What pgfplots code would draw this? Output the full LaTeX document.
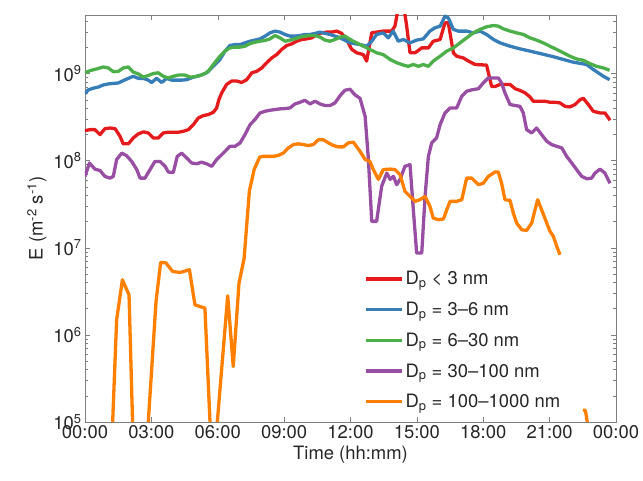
\documentclass[border=0pt]{standalone}
\usepackage{fontspec}
\setmainfont{TeX Gyre Heros}
\usepackage{pgfplots}
\pgfplotsset{compat=1.18}
\definecolor{cred}{RGB}{228,26,28}
\definecolor{cblue}{RGB}{55,126,184}
\definecolor{cgreen}{RGB}{77,175,74}
\definecolor{cpurple}{RGB}{152,78,163}
\definecolor{corange}{RGB}{255,127,0}
\definecolor{axgray}{RGB}{128,128,128}
\definecolor{txt}{RGB}{38,38,38}
\newcommand{\fs}{\fontsize{18.5}{22}\selectfont}
\begin{document}
\begin{tikzpicture}
\begin{axis}[
  scale only axis, width=531bp, height=407bp,
  xmin=0, xmax=24, ymode=log, log basis y=10, ymin=1e5, ymax=4.7e9,
  xtick={0,3,...,24},
  xticklabels={00:00,03:00,06:00,09:00,12:00,15:00,18:00,21:00,00:00},
  ytick={1e5,1e6,1e7,1e8,1e9},
  minor ytick={2e5,3e5,4e5,5e5,6e5,7e5,8e5,9e5,2e6,3e6,4e6,5e6,6e6,7e6,8e6,9e6,
    2e7,3e7,4e7,5e7,6e7,7e7,8e7,9e7,2e8,3e8,4e8,5e8,6e8,7e8,8e8,9e8,2e9,3e9,4e9},
  yticklabel={10\textsuperscript{\pgfmathparse{int(round(\tick))}\pgfmathresult}},
  tick align=inside, major tick length=5bp, minor tick length=3bp,
  axis line style={axgray}, every tick/.style={axgray},
  tick label style={font=\fs, text=txt},
  label style={font=\fs, text=txt},
  xlabel={Time (hh:mm)},
  ylabel={E (m\textsuperscript{-2} s\textsuperscript{-1})},
  unbounded coords=jump,
  every axis plot/.append style={line width=3.3bp, line join=round},
  legend style={draw=none, fill=none, at={(0.52,0.38)}, anchor=north west,
    font=\fs, text=txt, row sep=11.8bp, cells={anchor=west}},
  legend image code/.code={\draw[#1] (0bp,0bp) -- (36bp,0bp);},
]
% D_p < 3 nm
\addplot[cred] coordinates {
(0,2.21e8)(0.23,2.27e8)(0.45,2.27e8)(0.68,1.99e8)(0.90,2.33e8)(1.13,2.37e8)(1.36,2.33e8)(1.58,1.91e8)(1.73,1.56e8)(1.96,1.56e8)
(2.18,1.82e8)(2.41,2.03e8)(2.64,2.14e8)(2.86,2.08e8)(3.09,1.82e8)(3.31,1.82e8)(3.54,2.08e8)(3.77,2.12e8)(3.99,2.12e8)(4.22,2.12e8)
(4.44,2.17e8)(4.67,2.27e8)(4.90,2.59e8)(5.12,3.09e8)(5.35,3.29e8)(5.57,3.38e8)(5.80,3.59e8)(5.95,4.03e8)(6.05,5.0e8)(6.18,6.0e8)
(6.40,7.5e8)(6.63,8.2e8)(6.86,8.2e8)(7.08,7.9e8)(7.31,8.5e8)(7.54,1.02e9)(7.76,1.06e9)(7.99,1.16e9)(8.21,1.33e9)(8.44,1.51e9)
(8.66,1.65e9)(8.89,1.89e9)(9.12,2.10e9)(9.34,2.19e9)(9.57,2.35e9)(9.79,2.46e9)(10.02,2.50e9)(10.25,2.57e9)(10.47,2.81e9)(10.70,2.93e9)
(10.93,2.99e9)(11.15,2.99e9)(11.38,3.07e9)(11.60,2.89e9)(11.83,2.45e9)(12.05,1.9e9)(12.28,1.73e9)(12.58,1.65e9)(12.73,1.39e9)(12.96,2.93e9)
(13.48,3.07e9)(13.86,3.07e9)(14.01,3.5e9)(14.30,9.0e9)(14.54,3.5e9)(14.69,1.73e9)(14.92,1.73e9)(15.22,1.97e9)(15.52,1.97e9)(15.74,2.35e9)
(16.05,2.46e9)(16.27,3.82e9)(16.42,3.82e9)(16.65,1.73e9)(16.80,1.58e9)(17.10,1.51e9)(17.33,1.39e9)(17.63,1.27e9)(18.15,1.25e9)(18.38,7.1e8)
(18.53,7.1e8)(18.76,7.5e8)(18.98,7.5e8)(19.21,7.5e8)(19.44,6.7e8)(19.66,6.4e8)(19.89,6.0e8)(20.11,5.4e8)(20.26,4.81e8)(20.57,4.81e8)
(20.79,4.81e8)(21.02,4.68e8)(21.24,4.68e8)(21.47,4.60e8)(21.69,4.21e8)(21.92,4.14e8)(22.15,4.41e8)(22.37,5.0e8)(22.52,5.2e8)(22.75,4.41e8)
(22.97,3.69e8)(23.28,3.53e8)(23.50,3.53e8)(23.73,2.91e8)
};
\addlegendentry{D\textsubscript{p} < 3 nm}
% D_p = 3-6 nm
\addplot[cblue] coordinates {
(0,5.9e8)(0.15,6.5e8)(0.38,6.8e8)(0.60,7.0e8)(0.83,7.4e8)(1.05,7.6e8)(1.28,7.7e8)(1.51,7.8e8)(1.73,8.3e8)(1.96,8.8e8)
(2.18,9.3e8)(2.41,8.8e8)(2.64,8.8e8)(2.86,8.4e8)(3.01,7.9e8)(3.24,8.8e8)(3.47,7.9e8)(3.69,8.8e8)(3.92,8.4e8)(4.14,8.4e8)
(4.37,8.4e8)(4.60,8.5e8)(4.90,9.1e8)(5.20,9.5e8)(5.50,1.02e9)(5.80,1.21e9)(6.10,1.45e9)(6.33,1.81e9)(6.55,2.10e9)(6.78,2.15e9)
(7.01,2.15e9)(7.23,2.25e9)(7.46,2.35e9)(7.68,2.42e9)(7.91,2.50e9)(8.14,2.69e9)(8.36,2.93e9)(8.59,3.07e9)(8.81,2.99e9)(9.04,2.81e9)
(9.27,2.69e9)(9.49,2.69e9)(9.72,2.73e9)(9.94,2.81e9)(10.17,2.81e9)(10.40,2.89e9)(10.62,2.99e9)(10.85,2.89e9)(11.07,2.81e9)(11.30,2.69e9)
(11.53,2.57e9)(11.98,2.25e9)(12.43,2.15e9)(12.73,2.06e9)(12.96,2.35e9)(13.18,2.81e9)(13.48,2.93e9)(13.71,2.57e9)(13.93,3.07e9)(14.16,2.35e9)
(14.39,2.46e9)(14.69,2.25e9)(14.99,2.42e9)(15.29,2.50e9)(15.59,3.07e9)(15.82,3.35e9)(16.05,3.50e9)(16.27,4.56e9)(16.42,4.36e9)(16.65,3.21e9)
(16.87,3.07e9)(17.25,3.07e9)(17.55,2.93e9)(17.85,3.07e9)(18.15,2.81e9)(18.46,2.46e9)(18.76,2.25e9)(19.21,2.06e9)(19.66,1.92e9)(20.11,1.81e9)
(20.56,1.70e9)(21.17,1.56e9)(21.62,1.45e9)(22.07,1.35e9)(22.67,1.27e9)(22.98,1.11e9)(23.43,9.3e8)(23.71,8.5e8)
};
\addlegendentry{D\textsubscript{p} = 3--6 nm}
% D_p = 6-30 nm
\addplot[cgreen] coordinates {
(0,1.02e9)(0.23,1.08e9)(0.53,1.13e9)(0.83,1.19e9)(1.05,1.16e9)(1.28,1.05e9)(1.51,1.06e9)(1.73,1.16e9)(1.96,1.19e9)(2.18,1.04e9)
(2.41,9.9e8)(2.64,9.1e8)(2.86,9.5e8)(3.09,1.0e9)(3.31,1.02e9)(3.54,9.3e8)(3.77,8.9e8)(3.99,9.3e8)(4.22,9.6e8)(4.52,9.6e8)
(4.75,9.1e8)(4.97,9.2e8)(5.20,9.5e8)(5.42,1.0e9)(5.57,1.06e9)(5.80,1.27e9)(6.10,1.58e9)(6.33,1.81e9)(6.55,1.97e9)(6.78,2.01e9)
(7.01,2.01e9)(7.23,2.06e9)(7.46,2.21e9)(7.68,2.29e9)(7.91,2.35e9)(8.14,2.40e9)(8.36,2.50e9)(8.59,2.73e9)(8.81,2.57e9)(9.04,2.35e9)
(9.27,2.42e9)(9.49,2.50e9)(9.72,2.62e9)(9.94,2.69e9)(10.17,2.73e9)(10.40,2.73e9)(10.62,2.62e9)(10.85,2.42e9)(11.07,2.35e9)(11.30,2.46e9)
(11.53,2.62e9)(11.75,2.69e9)(11.98,2.46e9)(12.28,2.25e9)(12.58,2.06e9)(12.88,1.89e9)(13.18,1.73e9)(13.48,1.65e9)(13.79,1.45e9)(14.09,1.33e9)
(14.39,1.25e9)(14.61,1.21e9)(14.84,1.27e9)(15.07,1.21e9)(15.29,1.27e9)(15.52,1.21e9)(15.74,1.39e9)(16.05,1.58e9)(16.35,1.81e9)(16.65,1.97e9)
(16.95,2.25e9)(17.25,2.57e9)(17.55,2.93e9)(17.85,3.21e9)(18.15,3.44e9)(18.46,3.56e9)(18.68,3.50e9)(18.91,3.26e9)(19.21,3.07e9)(19.51,2.93e9)
(19.81,2.81e9)(20.11,2.57e9)(20.41,2.42e9)(20.71,2.25e9)(21.01,2.06e9)(21.32,1.89e9)(21.62,1.73e9)(21.92,1.58e9)(22.22,1.47e9)(22.52,1.42e9)
(22.82,1.30e9)(23.12,1.21e9)(23.43,1.16e9)(23.71,1.09e9)
};
\addlegendentry{D\textsubscript{p} = 6--30 nm}
% D_p = 30-100 nm
\addplot[cpurple] coordinates {
(0,6.6e7)(0.20,9.4e7)(0.45,8.0e7)(0.68,7.7e7)(0.90,6.6e7)(1.13,6.3e7)(1.28,6.6e7)(1.43,1.03e8)(1.66,1.22e8)(1.88,1.14e8)
(2.11,9.8e7)(2.34,7.9e7)(2.49,6.3e7)(2.71,6.3e7)(2.94,7.9e7)(3.16,9.8e7)(3.39,9.8e7)(3.62,8.6e7)(3.77,7.4e7)(3.99,7.3e7)
(4.17,1.12e8)(4.37,1.22e8)(4.60,1.07e8)(4.82,9.4e7)(5.05,9.2e7)(5.27,9.6e7)(5.50,9.2e7)(5.73,8.6e7)(5.95,1.03e8)(6.10,1.12e8)
(6.33,1.28e8)(6.55,1.46e8)(6.78,1.46e8)(7.01,1.60e8)(7.23,1.99e8)(7.46,2.59e8)(7.68,2.96e8)(7.91,3.53e8)(8.14,3.69e8)(8.36,3.79e8)
(8.59,3.86e8)(8.81,3.93e8)(9.04,3.96e8)(9.27,4.03e8)(9.49,4.48e8)(9.72,4.68e8)(9.94,4.93e8)(10.17,4.48e8)(10.40,4.81e8)(10.62,4.48e8)
(10.85,4.29e8)(11.07,4.29e8)(11.30,4.60e8)(11.53,5.58e8)(11.75,6.43e8)(11.98,6.6e8)(12.20,5.7e8)(12.43,5.2e8)(12.66,3.24e8)(12.81,1.03e8)
(12.96,2.01e7)(13.18,2.01e7)(13.41,5.1e7)(13.64,7.2e7)(13.79,6.1e7)(13.94,6.6e7)(14.09,5.3e7)(14.24,6.1e7)(14.46,8.6e7)(14.69,9.0e7)
(14.84,2.73e7)(14.99,8.7e6)(15.22,8.7e6)(15.37,3.89e7)(15.52,1.12e8)(15.67,1.60e8)(15.89,1.82e8)(16.05,2.59e8)(16.27,3.53e8)(16.50,4.03e8)
(16.80,4.03e8)(17.03,5.5e8)(17.25,6.26e8)(17.48,6.5e8)(17.78,6.7e8)(18.00,7.8e8)(18.23,8.9e8)(18.46,8.9e8)(18.68,8.9e8)(18.83,7.8e8)
(18.98,6.0e8)(19.21,4.41e8)(19.44,4.29e8)(19.66,4.21e8)(19.81,3.53e8)(19.96,2.27e8)(20.19,2.08e8)(20.41,2.37e8)(20.64,1.99e8)(20.87,1.67e8)
(21.09,1.53e8)(21.32,1.46e8)(21.55,1.40e8)(21.77,1.12e8)(22.00,9.4e7)(22.22,7.9e7)(22.45,6.6e7)(22.68,6.2e7)(22.90,6.3e7)(23.05,7.2e7)
(23.28,8.0e7)(23.50,7.2e7)(23.73,5.5e7)
};
\addlegendentry{D\textsubscript{p} = 30--100 nm}
% D_p = 100-1000 nm
\addplot[corange] coordinates {
(1.25,1e5)(1.43,1.49e6)(1.69,4.29e6)(1.99,2.88e6)(2.15,1e5)(2.5,nan)
(2.86,1e5)(3.21,2.41e6)(3.42,6.8e6)(3.66,6.7e6)(3.96,5.35e6)(4.29,5.2e6)(4.72,5.6e6)(4.97,2.21e6)(5.42,2.03e6)(5.65,1e5)(5.8,nan)
(5.98,1e5)(6.45,2.81e6)(6.70,4.33e5)(6.96,3.93e6)(7.19,7.5e6)(7.43,4.5e7)(7.65,8.0e7)(7.90,1.1e8)(8.06,1.12e8)(8.29,1.12e8)
(8.51,1.12e8)(8.74,1.15e8)(8.96,1.22e8)(9.19,1.40e8)(9.42,1.53e8)(9.64,1.56e8)(9.87,1.53e8)(10.09,1.49e8)(10.32,1.53e8)(10.55,1.74e8)
(10.77,1.74e8)(11.00,1.60e8)(11.23,1.49e8)(11.45,1.44e8)(11.68,1.44e8)(11.90,1.60e8)(12.13,1.63e8)(12.43,1.28e8)(12.66,1.03e8)(12.88,9.8e7)
(13.03,7.9e7)(13.26,6.1e7)(13.48,7.9e7)(13.79,8.0e7)(14.01,7.9e7)(14.24,6.9e7)(14.46,4.45e7)(14.69,3.89e7)(14.92,3.41e7)(15.14,3.56e7)
(15.37,3.89e7)(15.59,2.99e7)(15.74,2.19e7)(15.97,2.10e7)(16.20,2.14e7)(16.35,2.73e7)(16.50,3.41e7)(16.80,3.41e7)(17.03,3.56e7)(17.25,6.3e7)
(17.48,6.3e7)(17.78,5.3e7)(18.00,5.5e7)(18.23,6.6e7)(18.53,7.4e7)(18.68,7.4e7)(18.83,5.5e7)(18.98,3.56e7)(19.21,3.50e7)(19.36,2.50e7)
(19.51,1.92e7)(19.74,1.61e7)(19.96,1.58e7)(20.19,1.92e7)(20.34,2.73e7)(20.46,3.56e7)(20.64,2.73e7)(20.87,1.92e7)(21.02,1.54e7)(21.17,1.35e7)
(21.32,1.04e7)(21.47,8.3e6)(22.0,nan)
(22.51,1.38e5)(22.62,1.35e5)(22.70,1e5)
};
\addlegendentry{D\textsubscript{p} = 100--1000 nm}
\end{axis}
\pgfresetboundingbox
\path[use as bounding box] (-85bp,-59bp) rectangle (558bp,422bp);
\end{tikzpicture}
\end{document}
